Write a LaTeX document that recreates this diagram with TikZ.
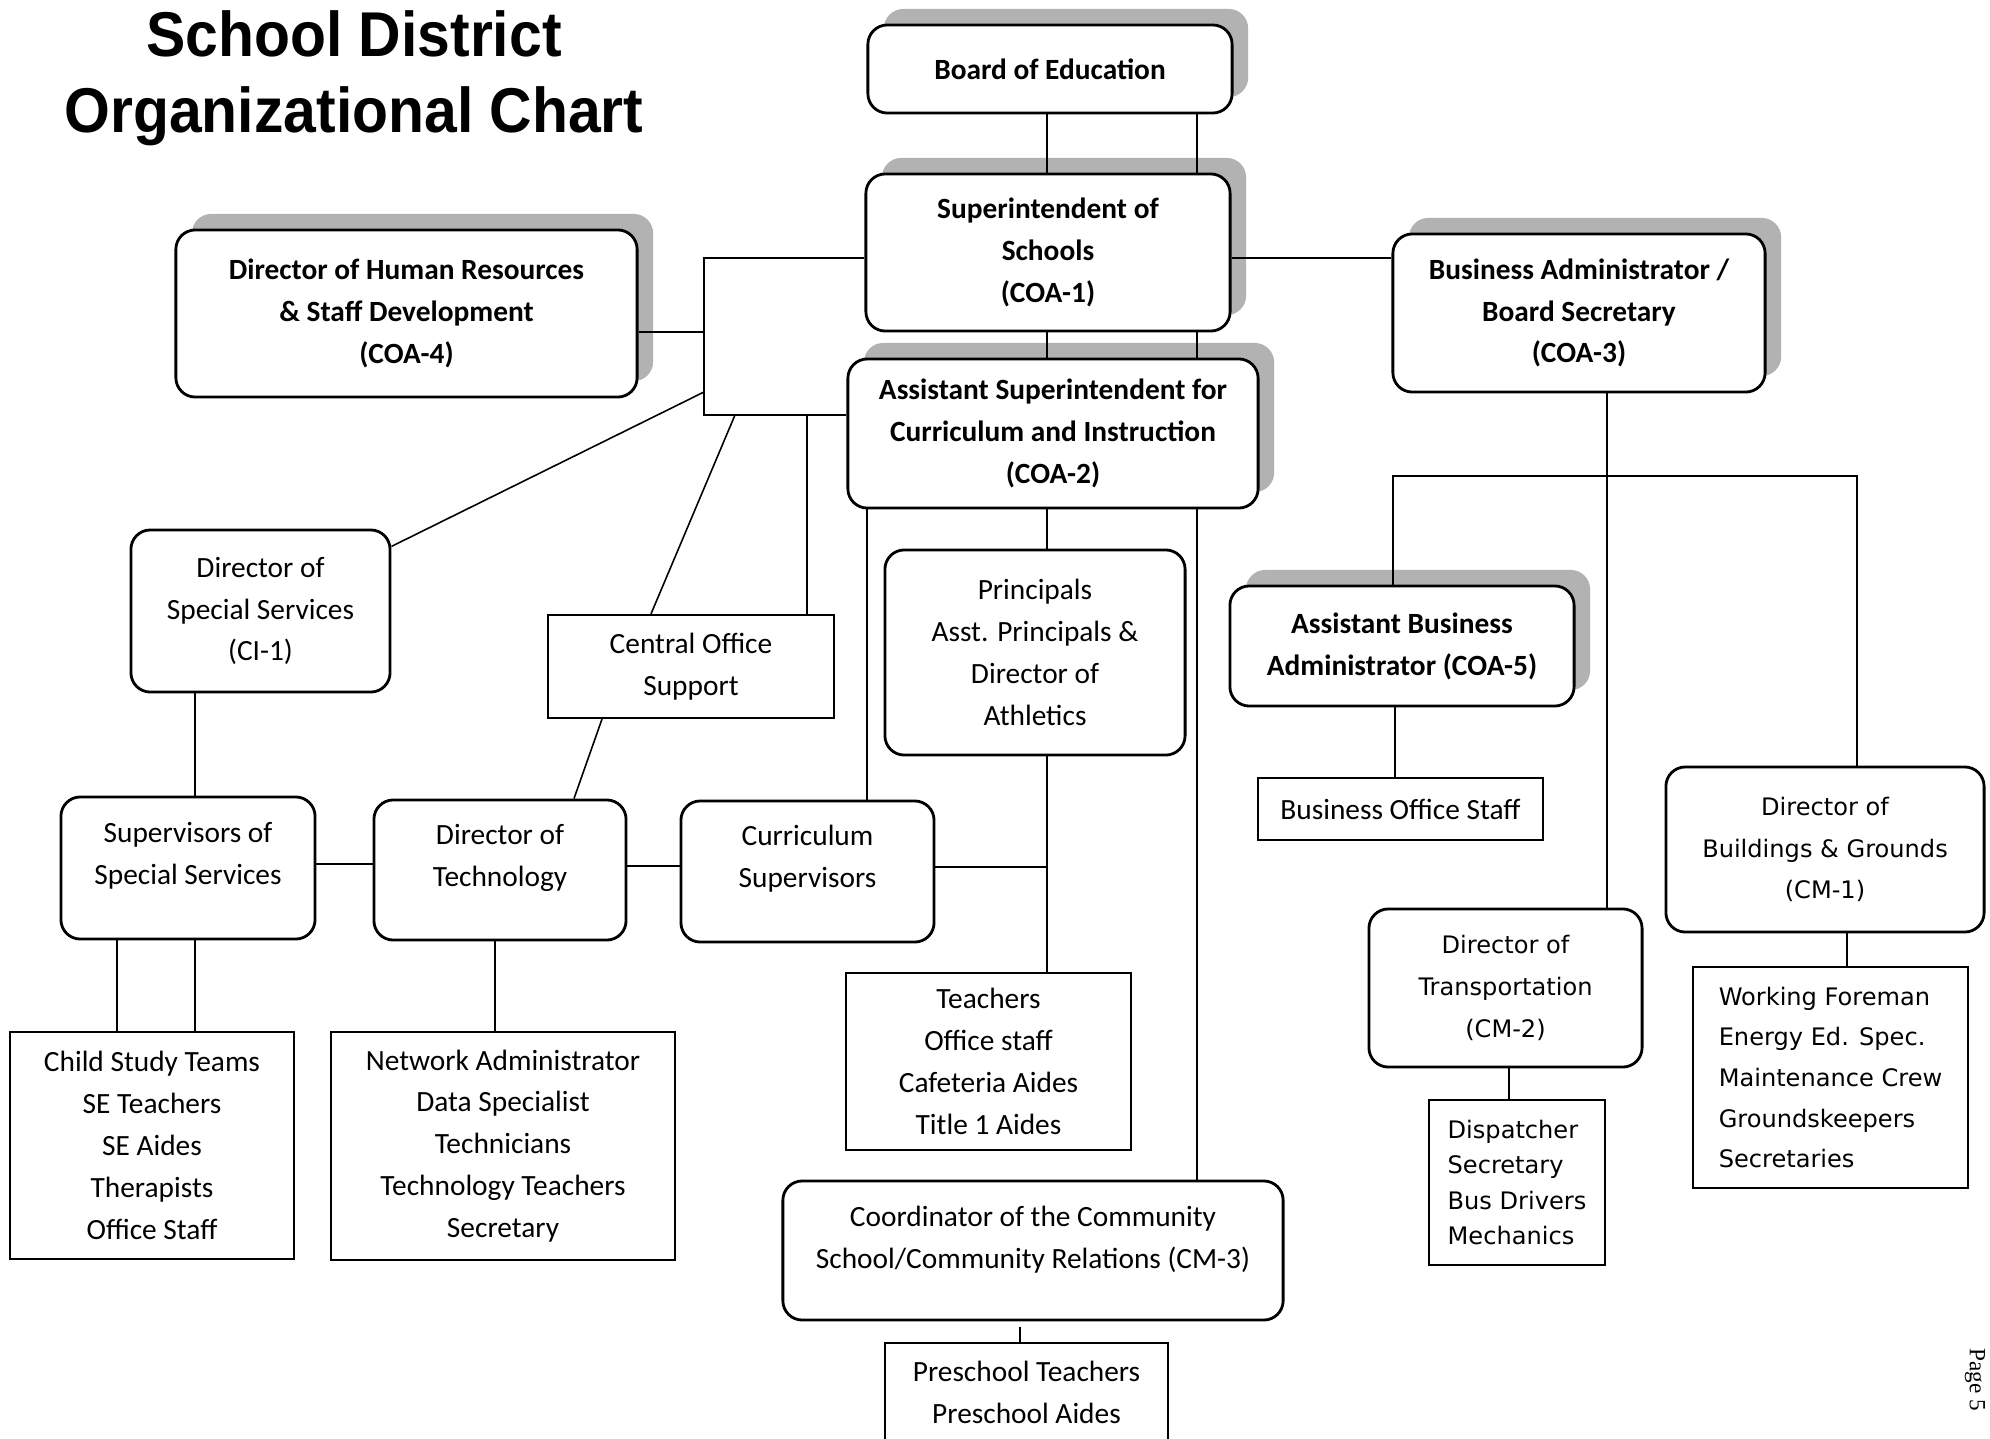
\documentclass[tikz,border=0pt]{standalone}
\usepackage{fontspec}
\newfontfamily\fCarl{Carlito}
\newfontfamily\fVer{DejaVu Sans}
\newfontfamily\fTitle{Liberation Sans}
\newfontfamily\fSerif{Liberation Serif}
\usetikzlibrary{shadows}
\newcommand\cReg{\fCarl\fontsize{8.35}{11.9}\selectfont}
\newcommand\cBold{\fCarl\bfseries\fontsize{8.35}{11.9}\selectfont}
\newcommand\vReg{\fVer\fontsize{6.85}{11.9}\selectfont}
\newcommand\tFont{\fTitle\bfseries\fontsize{18}{21}\selectfont}
\tikzset{
  conn/.style={line width=0.45pt},
  sz/.style 2 args={minimum width=#1cm, minimum height=#2cm},
  rbox/.style={draw, line width=0.8pt, rounded corners=5.5pt, fill=white, align=center, inner sep=0pt, font=\cReg},
  bbox/.style={rbox, font=\cBold, drop shadow={shadow xshift=0.16cm, shadow yshift=0.16cm, fill=black!30, opacity=1}},
  pbox/.style={draw, line width=0.6pt, fill=white, align=center, inner sep=0pt, font=\cReg},
  vbox/.style={rbox, font=\vReg},
  txt/.style={inner sep=0pt, align=center, font=\cReg},
}
\begin{document}
\begin{tikzpicture}[x=0.01cm, y=-0.01cm]
\fill[white] (0,0) rectangle (1990,1439);
\useasboundingbox (0,0) rectangle (1990,1439);

% title
\node[anchor=base, inner sep=0pt, font=\tFont] (t1) at (354,56) {\scalebox{0.93}[1]{School District}};
\node[anchor=base, inner sep=0pt, font=\tFont] (t2) at (354,132) {\scalebox{0.93}[1]{Organizational Chart}};

% top level boxes
\node[bbox, sz={3.64}{0.88}] (board) at (1050,69) {Board of Education};
\node[bbox, sz={3.64}{1.57}] (super) at (1048,252.5) {Superintendent of\\Schools\\(COA-1)};
\node[bbox, sz={4.10}{1.49}] (asc) at (1053,433.5) {Assistant Superintendent for\\Curriculum and Instruction\\(COA-2)};
\node[bbox, sz={4.61}{1.67}] (hr) at (406.5,313.5) {Director of Human Resources\\\& Staff Development\\(COA-4)};
\node[bbox, sz={3.72}{1.58}] (ba) at (1579,313) {Business Administrator /\\Board Secretary\\(COA-3)};
\node[bbox, sz={3.44}{1.20}] (ab) at (1402,646) {Assistant Business\\Administrator (COA-5)};

% business side
\node[pbox, sz={2.85}{0.62}] (bos) at (1400.5,809) {Business Office Staff};
\node[vbox, sz={2.73}{1.58}] (trans) at (1505.5,988) {Director of\\Transportation\\(CM-2)};
\node[pbox, sz={1.76}{1.65}, align=left, font=\fVer\fontsize{6.85}{10.1}\selectfont] (disp) at (1517,1182.5) {Dispatcher\\Secretary\\Bus Drivers\\Mechanics};
\node[vbox, sz={3.18}{1.65}] (bg) at (1825,849.5) {Director of\\Buildings \& Grounds\\(CM-1)};
\node[pbox, sz={2.75}{2.21}, align=left, font=\fVer\fontsize{6.85}{11.55}\selectfont] (wf) at (1830.5,1077.5) {Working Foreman\\Energy Ed. Spec.\\Maintenance Crew\\Groundskeepers\\Secretaries};

% left side
\node[rbox, sz={2.59}{1.62}] (dss) at (260.5,611) {Director of\\Special Services\\(CI-1)};
\node[rbox, sz={2.54}{1.42}] (sss) at (188,868) {};
\node[txt] (ssst) at (188,856) {Supervisors of\\Special Services};
\node[rbox, sz={2.52}{1.40}] (dt) at (500,870) {};
\node[txt] (dtt) at (500,858) {Director of\\Technology};
\node[pbox, sz={2.86}{1.03}] (co) at (691,666.5) {Central Office\\Support};
\node[rbox, sz={2.53}{1.41}] (cs) at (807.5,871.5) {};
\node[txt] (cst2) at (807.5,858.5) {Curriculum\\Supervisors};
\node[pbox, sz={2.84}{2.27}] (cst) at (152,1145.5) {Child Study Teams\\SE Teachers\\SE Aides\\Therapists\\Office Staff};
\node[pbox, sz={3.44}{2.28}] (na) at (503,1146) {Network Administrator\\Data Specialist\\Technicians\\Technology Teachers\\Secretary};

% middle
\node[rbox, sz={3.00}{2.05}] (pr) at (1035,652.5) {Principals\\Asst. Principals \&\\Director of\\Athletics};
\node[pbox, sz={2.85}{1.77}] (te) at (988.5,1061.5) {Teachers\\Office staff\\Cafeteria Aides\\Title 1 Aides};
\node[rbox, sz={5.00}{1.39}] (coord) at (1033,1250.5) {};
\node[txt] (coordt) at (1033,1240) {Coordinator of the Community\\School/Community Relations (CM-3)};
\node[pbox, sz={2.83}{1.10}] (ps) at (1026.5,1398) {};
\node[txt] (pst) at (1026.5,1392) {Preschool Teachers\\Preschool Aides};

% page number
\node[rotate=-90, inner sep=0pt, font=\fSerif\fontsize{6.6}{8}\selectfont] (pg) at (1975,1380) {Page 5};

% named junctions
\coordinate (bt) at (704,258);
\coordinate (bb) at (704,415);
\coordinate (bd) at (704,392);
\coordinate (cj) at (1047,867);
\coordinate (bl) at (1393,476);
\coordinate (br) at (1857,476);

% connectors
\draw[conn] (board.south -| 1047,0) -- (super.north -| 1047,0);
\draw[conn] (board.south -| 1197,0) -- (super.north -| 1197,0);
\draw[conn] (super.south -| 1047,0) -- (asc.north -| 1047,0);
\draw[conn] (super.south -| 1197,0) -- (asc.north -| 1197,0);
\draw[conn] (super.west |- bt) -- (bt) -- (bb) -- (asc.west |- bb);
\draw[conn] (hr.east |- 0,332) -- (bt |- 0,332);
\draw[conn] (super.east |- 0,258) -- (ba.west |- 0,258);
\draw[conn] (dss) -- (bd);
\draw[conn] (dss.south -| 195,0) -- (sss.north -| 195,0);
\draw[conn] (sss.south -| 117,0) -- (cst.north -| 117,0);
\draw[conn] (sss.south -| 195,0) -- (cst.north -| 195,0);
\draw[conn] (sss.east |- 0,864) -- (dt.west |- 0,864);
\draw[conn] (dt.south -| 495,0) -- (na.north -| 495,0);
\draw[conn] (dt.north -| 574,0) -- (co.south -| 602,0);
\draw[conn] (co.north -| 651,0) -- (bb -| 735,0);
\draw[conn] (co.north -| 807,0) -- (bb -| 807,0);
\draw[conn] (dt.east |- 0,866) -- (cs.west |- 0,866);
\draw[conn] (asc.south -| 867,0) -- (cs.north -| 867,0);
\draw[conn] (asc.south -| 1047,0) -- (pr.north -| 1047,0);
\draw[conn] (pr.south -| 1047,0) -- (te.north -| 1047,0);
\draw[conn] (cs.east |- cj) -- (cj);
\draw[conn] (asc.south -| 1197,0) -- (coord.north -| 1197,0);
\draw[conn] (coord.south -| 1020,0) ++(0,6) -- (ps.north -| 1020,0);
\draw[conn] (ba.south -| 1607,0) -- (trans.north -| 1607,0);
\draw[conn] (ab.north -| bl) -- (bl) -- (br) -- (bg.north -| br);
\draw[conn] (ab.south -| 1395,0) -- (bos.north -| 1395,0);
\draw[conn] (trans.south -| 1509,0) -- (disp.north -| 1509,0);
\draw[conn] (bg.south -| 1847,0) -- (wf.north -| 1847,0);
\end{tikzpicture}
\end{document}
